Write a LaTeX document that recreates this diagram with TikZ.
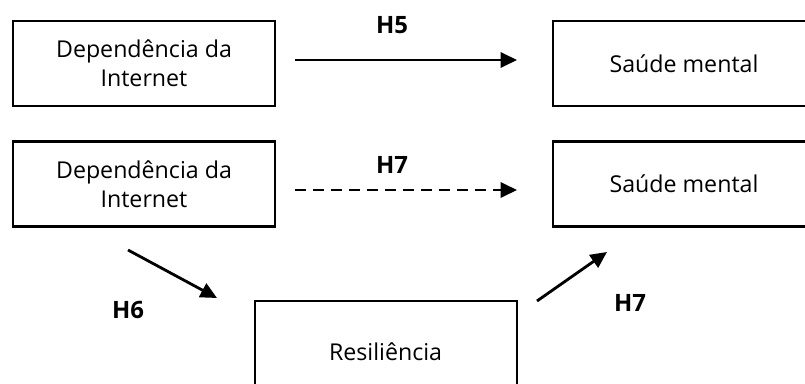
\documentclass[tikz,border=0pt]{standalone}
\usepackage{fontspec}
\setmainfont{Open Sans}
\usetikzlibrary{arrows.meta}

\begin{document}
\begin{tikzpicture}[line width=2,
	box/.style={draw,line width=1.5,minimum width=6.55cm,minimum height=2.125cm,align=center,font=\fontsize{16.5}{20.6}\selectfont},
	lab/.style={font=\fontsize{17}{19}\selectfont\bfseries},
	arr/.style={-{Triangle[length=4.1mm,width=3.8mm]}}]
	\useasboundingbox (0,0) rectangle (20.125,9.575);
	\clip (0,0) rectangle (20.125,9.575);
	% boxes
	\node[box] (dep1) at (3.6,7.99) {Dependência da\\Internet};
	\node[box] (sm1) at (17.1,7.99) {Saúde mental};
	\node[box] (dep2) at (3.6,4.975) {Dependência da\\Internet};
	\node[box] (sm2) at (17.1,4.975) {Saúde mental};
	\node[box,minimum height=2.55cm] (res) at (9.64,0.775) {Resiliência};
	% arrow ends
	\coordinate (a1) at (7.375,8.075);
	\coordinate (b1) at (12.925,8.075);
	\coordinate (a2) at (7.375,4.825);
	\coordinate (b2) at (12.925,4.825);
	\coordinate (a3) at (3.2,3.325);
	\coordinate (b3) at (5.425,2.125);
	\coordinate (a4) at (13.425,2.05);
	\coordinate (b4) at (15.175,3.275);
	\draw[arr] (a1) -- (b1);
	\draw[arr,dash pattern=on 7.8pt off 5pt] (a2) -- (b2);
	\draw[arr] (a3) -- (b3);
	\draw[arr] (a4) -- (b4);
	% labels
	\node[lab] (h5) at (9.8,8.95) {H5};
	\node[lab] (h7a) at (9.8,5.45) {H7};
	\node[lab] (h6) at (3.2,1.825) {H6};
	\node[lab] (h7b) at (15.75,2.0) {H7};
\end{tikzpicture}
\end{document}
